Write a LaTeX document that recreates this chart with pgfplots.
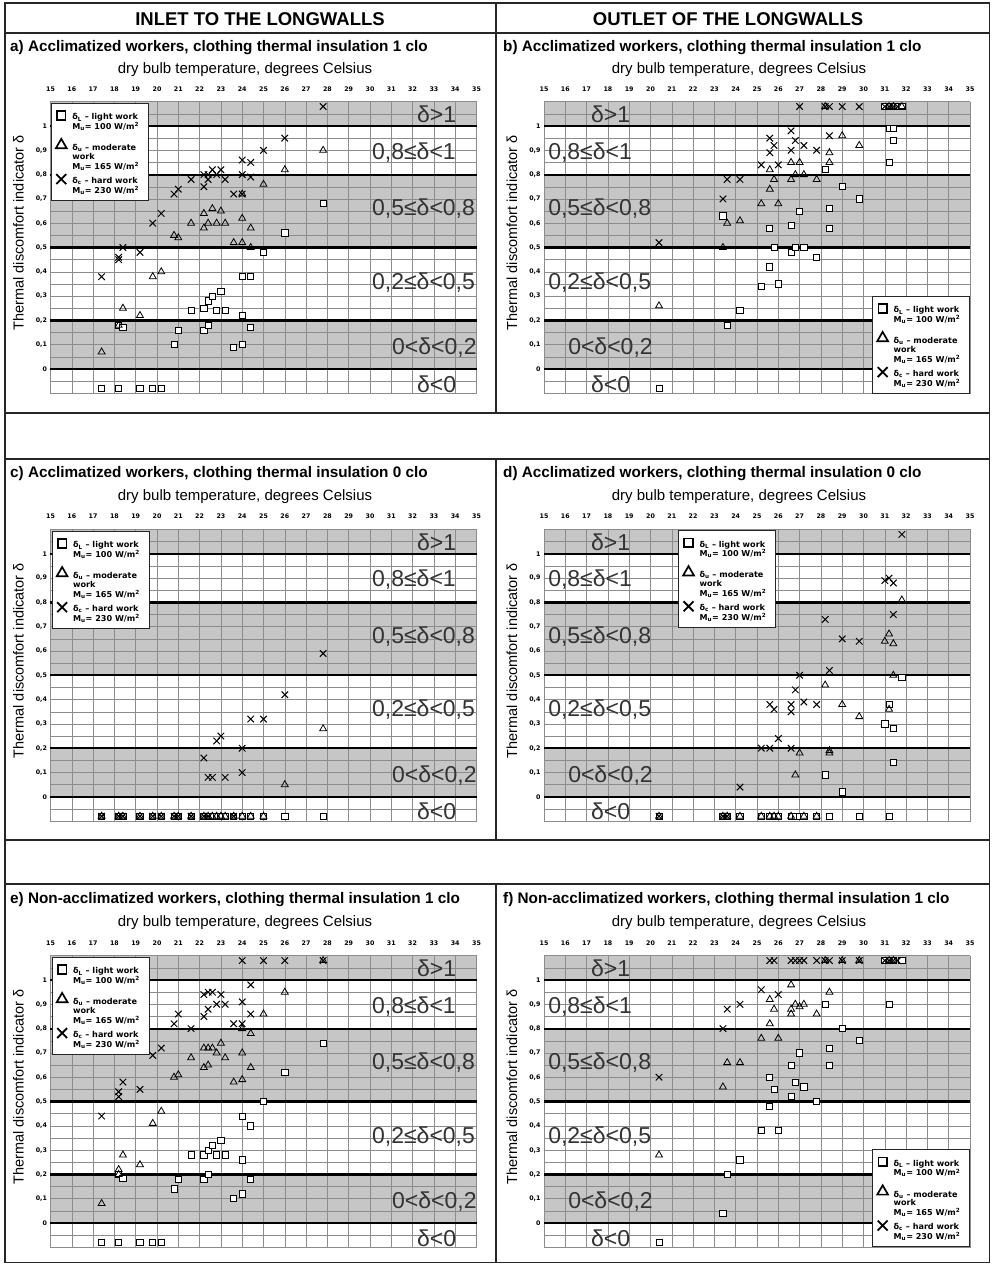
\documentclass[border=0pt]{standalone}
\usepackage{fontspec}
\setmainfont{Liberation Sans}
\newfontfamily\dv{DejaVu Sans}
\usepackage{pgfplots}
\pgfplotsset{compat=1.18}
\definecolor{bandgray}{RGB}{198,198,198}
\newcommand{\tickfont}{\dv\bfseries\fontsize{6.3}{7}\selectfont}
\newcommand{\legfont}{\dv\bfseries\fontsize{8.1}{8.7}\selectfont}
\protected\def\legL{\begin{tabular}{@{}p{72pt}@{}}δ\textsubscript{L} – light work\\M\textsubscript{u}= 100 W/m\textsuperscript{2}\end{tabular}}
\protected\def\legU{\begin{tabular}{@{}p{72pt}@{}}δ\textsubscript{u} – moderate\\work\\M\textsubscript{u}= 165 W/m\textsuperscript{2}\end{tabular}}
\protected\def\legC{\begin{tabular}{@{}p{72pt}@{}}δ\textsubscript{c} – hard work\\M\textsubscript{u}= 230 W/m\textsuperscript{2}\end{tabular}}
\tikzset{
 gridc/.style={draw=black!45, line width=0.45pt},
 thickl/.style={draw=black, line width=2.2pt},
 zone/.style={anchor=west, inner sep=0pt, font=\fontsize{23}{24}\selectfont, text=black!80},
 frame/.style={draw=black!85, line width=1.1pt},
}
\pgfplotsset{
 panel/.style={
  width=426pt, height=291.6pt, scale only axis, anchor=north west,
  xmin=15, xmax=35, ymin=-0.1, ymax=1.1, clip=false,
  xtick={15,16,...,35}, xticklabel pos=upper,
  ytick={0,0.1,0.2,0.3,0.4,0.5,0.6,0.7,0.8,0.9,1},
  major tick length=0pt,
  axis line style={draw=black!50, line width=0.4pt},
  ticklabel style={font=\tickfont},
  xticklabel style={yshift=7pt},
  /pgf/number format/assume math mode=true,
  /pgf/number format/use comma,
  ylabel={Thermal discomfort indicator δ},
  every axis y label/.style={at={(axis description cs:-0.075,0.55)}, rotate=90, anchor=center, font=\fontsize{14.5}{16}\selectfont},
  legend style={draw=black!85, line width=0.7pt, fill=white, inner xsep=2pt, inner ysep=8pt, row sep=10.5pt, font=\legfont, cells={anchor=west}, /tikz/every even column/.append style={column sep=1pt}},
 },
 sq/.style={only marks, mark=square*, mark size=3.1pt, mark options={fill=white, draw=black, line width=0.8pt},
   legend image code/.code={\path[draw=none,fill=none] (0pt,3pt) (17pt,3pt); \draw[mark=square*, mark size=4.3pt, mark options={fill=white, draw=black, line width=1.7pt}] plot coordinates {(8pt,4.5pt)};}},
 tri/.style={only marks, mark=triangle, mark size=4pt, mark options={draw=black, line width=0.8pt},
   legend image code/.code={\path[draw=none,fill=none] (0pt,3pt) (17pt,3pt); \draw[mark=triangle, mark size=6.2pt, mark options={draw=black, line width=1.7pt}] plot coordinates {(8pt,8pt)};}},
 crs/.style={only marks, mark=x, mark size=4.6pt, mark options={draw=black, line width=1pt},
   legend image code/.code={\path[draw=none,fill=none] (0pt,3pt) (17pt,3pt); \draw[mark=x, mark size=7pt, mark options={draw=black, line width=1.8pt}] plot coordinates {(8pt,4.5pt)};}},
}
\newcommand{\bg}{%
 \fill[bandgray] (axis cs:15,1) rectangle (axis cs:35,1.1);
 \fill[bandgray] (axis cs:15,0.5) rectangle (axis cs:35,0.8);
 \fill[bandgray] (axis cs:15,0) rectangle (axis cs:35,0.2);
 \pgfplotsinvokeforeach{15,...,35}{\draw[gridc] (axis cs:##1,-0.1) -- (axis cs:##1,1.1);}
 \pgfplotsinvokeforeach{-2,...,22}{\draw[gridc] (axis cs:15,##1*0.05) -- (axis cs:35,##1*0.05);}
 \pgfplotsinvokeforeach{0,0.2,0.5,0.8,1}{\draw[thickl] (axis cs:15,##1) -- (axis cs:35,##1);}
}
\newcommand{\zonesR}{%
 \node[zone] at (axis cs:32.2,1.048) {δ>1};
 \node[zone] at (axis cs:30.09,0.892) {0,8≤δ<1};
 \node[zone] at (axis cs:30.09,0.661) {0,5≤δ<0,8};
 \node[zone] at (axis cs:30.09,0.357) {0,2≤δ<0,5};
 \node[zone] at (axis cs:31.03,0.089) {0<δ<0,2};
 \node[zone] at (axis cs:32.2,-0.061) {δ<0};
}
\newcommand{\zonesL}{%
 \node[zone] at (axis cs:17.2,1.048) {δ>1};
 \node[zone] at (axis cs:15.19,0.892) {0,8≤δ<1};
 \node[zone] at (axis cs:15.19,0.661) {0,5≤δ<0,8};
 \node[zone] at (axis cs:15.19,0.357) {0,2≤δ<0,5};
 \node[zone] at (axis cs:16.13,0.089) {0<δ<0,2};
 \node[zone] at (axis cs:17.2,-0.061) {δ<0};
}
\begin{document}
\begin{tikzpicture}
\useasboundingbox (0pt,0pt) rectangle (991pt,-1264pt);
% frame
\draw[frame] (5pt,-3pt) rectangle (989.5pt,-1262.5pt);
\draw[frame] (5pt,-33pt) -- (989.5pt,-33pt);
\draw[frame] (496pt,-3pt) -- (496pt,-413pt);
\draw[frame] (5pt,-413pt) -- (989.5pt,-413pt);
\draw[frame] (5pt,-459pt) -- (989.5pt,-459pt);
\draw[frame] (496pt,-459pt) -- (496pt,-840pt);
\draw[frame] (5pt,-840pt) -- (989.5pt,-840pt);
\draw[frame] (5pt,-884pt) -- (989.5pt,-884pt);
\draw[frame] (496pt,-884pt) -- (496pt,-1262.5pt);
\node[font=\bfseries\fontsize{18.5}{20}\selectfont] at (260pt,-19.5pt) {INLET TO THE LONGWALLS};
\node[font=\bfseries\fontsize{18.5}{20}\selectfont] at (728pt,-19.5pt) {OUTLET OF THE LONGWALLS};
\begin{scope}[every node/.style={inner sep=0pt}]
\node[anchor=west, font=\bfseries\fontsize{15.3}{17}\selectfont] at (10pt,-48pt) {a) Acclimatized workers, clothing thermal insulation 1 clo};
\node[anchor=west, font=\bfseries\fontsize{15.3}{17}\selectfont] at (503pt,-48pt) {b) Acclimatized workers, clothing thermal insulation 1 clo};
\node[anchor=west, font=\bfseries\fontsize{15.3}{17}\selectfont] at (10pt,-474pt) {c) Acclimatized workers, clothing thermal insulation 0 clo};
\node[anchor=west, font=\bfseries\fontsize{15.3}{17}\selectfont] at (503pt,-474pt) {d) Acclimatized workers, clothing thermal insulation 0 clo};
\node[anchor=west, font=\bfseries\fontsize{15.3}{17}\selectfont] at (10pt,-900pt) {e) Non-acclimatized workers, clothing thermal insulation 1 clo};
\node[anchor=west, font=\bfseries\fontsize{15.3}{17}\selectfont] at (503pt,-900pt) {f) Non-acclimatized workers, clothing thermal insulation 1 clo};
\foreach \xx/\yy in {245/70,739/70,245/497,739/497,245/923,739/923}{
 \node[font=\fontsize{15}{17}\selectfont] at (\xx pt,-\yy pt) {dry bulb temperature, degrees Celsius};}
\end{scope}

% ---------- a ----------
\begin{axis}[panel, at={(50.5pt,-101.7pt)}, legend style={at={(0.001,0.996)}, anchor=north west}]
\bg \zonesR
\addplot[sq] coordinates {(17.4,-0.08)(18.2,-0.08)(19.2,-0.08)(19.8,-0.08)(20.2,-0.08)(18.2,0.18)(18.4,0.17)(20.8,0.10)(21.0,0.16)(21.6,0.24)(22.2,0.25)(22.2,0.16)(22.4,0.18)(22.4,0.28)(22.6,0.30)(22.8,0.24)(23.0,0.32)(23.2,0.24)(23.6,0.09)(24.0,0.22)(24.0,0.10)(24.0,0.38)(24.4,0.38)(24.4,0.17)(25.0,0.48)(26.0,0.56)(27.8,0.68)};
\addlegendentry{\legL}
\addplot[tri] coordinates {(17.4,0.07)(18.2,0.18)(18.4,0.25)(19.2,0.22)(19.8,0.38)(20.2,0.40)(20.8,0.55)(21.0,0.54)(21.6,0.60)(22.2,0.58)(22.2,0.64)(22.4,0.60)(22.6,0.66)(22.8,0.60)(23.0,0.65)(23.2,0.60)(23.6,0.52)(24.0,0.52)(24.0,0.62)(24.0,0.72)(24.4,0.58)(24.4,0.50)(25.0,0.76)(26.0,0.82)(27.8,0.90)};
\addlegendentry{\legU}
\addplot[crs] coordinates {(17.4,0.38)(18.2,0.45)(18.2,0.46)(18.4,0.50)(19.2,0.48)(19.8,0.60)(20.2,0.64)(20.8,0.72)(21.0,0.74)(21.6,0.78)(22.2,0.75)(22.2,0.80)(22.4,0.78)(22.4,0.80)(22.6,0.82)(22.8,0.80)(23.0,0.82)(23.2,0.78)(23.6,0.72)(24.0,0.72)(24.0,0.80)(24.0,0.86)(24.4,0.85)(24.4,0.79)(25.0,0.90)(26.0,0.95)(27.8,1.08)};
\addlegendentry{\legC}
\end{axis}

% ---------- b ----------
\begin{axis}[panel, at={(544pt,-101.7pt)}, legend style={at={(1,0)}, anchor=south east}]
\bg \zonesL
\addplot[sq] coordinates {(20.4,-0.08)(23.6,0.18)(24.2,0.24)(23.4,0.63)(25.2,0.34)(25.6,0.42)(26.0,0.35)(25.6,0.58)(25.8,0.50)(26.6,0.48)(26.6,0.59)(26.8,0.50)(27.2,0.50)(27.0,0.65)(27.8,0.46)(28.2,0.82)(28.4,0.66)(28.4,0.58)(29.0,0.75)(29.8,0.70)(31.2,0.85)(31.2,0.99)(31.4,0.99)(31.4,0.94)(31.0,1.08)(31.2,1.08)(31.4,1.08)(31.6,1.08)(31.8,1.08)};
\addlegendentry{\legL}
\addplot[tri] coordinates {(20.4,0.26)(23.4,0.50)(23.6,0.60)(24.2,0.61)(25.2,0.68)(25.6,0.74)(25.6,0.82)(25.8,0.78)(26.0,0.68)(26.6,0.78)(26.6,0.85)(27.0,0.85)(26.8,0.80)(27.2,0.80)(27.8,0.78)(28.4,0.85)(28.4,0.89)(29.0,0.96)(29.8,0.92)(28.2,1.08)(31.2,1.08)(31.4,1.08)(31.8,1.08)};
\addlegendentry{\legU}
\addplot[crs] coordinates {(20.4,0.52)(23.4,0.70)(23.6,0.78)(24.2,0.78)(25.2,0.84)(25.6,0.95)(25.6,0.89)(25.8,0.92)(26.0,0.84)(26.6,0.98)(26.6,0.90)(26.8,0.94)(27.2,0.92)(27.8,0.90)(28.4,0.96)(27.0,1.08)(28.2,1.08)(28.4,1.08)(29.0,1.08)(29.8,1.08)(31.0,1.08)(31.2,1.08)(31.4,1.08)(31.6,1.08)};
\addlegendentry{\legC}
\end{axis}

% ---------- c ----------
\begin{axis}[panel, at={(50.5pt,-529.5pt)}, legend style={at={(0.003,0.995)}, anchor=north west}]
\bg \zonesR
\addplot[sq] coordinates {(17.4,-0.08)(18.2,-0.08)(18.4,-0.08)(19.2,-0.08)(19.8,-0.08)(20.2,-0.08)(20.8,-0.08)(21.0,-0.08)(21.6,-0.08)(22.2,-0.08)(22.4,-0.08)(22.6,-0.08)(22.8,-0.08)(23.0,-0.08)(23.2,-0.08)(23.6,-0.08)(24.0,-0.08)(24.4,-0.08)(25.0,-0.08)(26.0,-0.08)(27.8,-0.08)};
\addlegendentry{\legL}
\addplot[tri] coordinates {(17.4,-0.08)(18.2,-0.08)(18.4,-0.08)(19.2,-0.08)(19.8,-0.08)(20.2,-0.08)(20.8,-0.08)(21.0,-0.08)(21.6,-0.08)(22.2,-0.08)(22.4,-0.08)(22.6,-0.08)(22.8,-0.08)(23.0,-0.08)(23.2,-0.08)(23.6,-0.08)(24.0,-0.08)(24.4,-0.08)(25.0,-0.08)(26.0,0.05)(27.8,0.28)};
\addlegendentry{\legU}
\addplot[crs] coordinates {(17.4,-0.08)(18.2,-0.08)(18.4,-0.08)(19.2,-0.08)(19.8,-0.08)(20.2,-0.08)(20.8,-0.08)(21.0,-0.08)(21.6,-0.08)(22.2,-0.08)(22.4,-0.08)(23.6,-0.08)(22.2,0.16)(22.4,0.08)(22.6,0.08)(22.8,0.23)(23.0,0.25)(23.2,0.08)(24.0,0.20)(24.0,0.10)(24.4,0.32)(25.0,0.32)(26.0,0.42)(27.8,0.59)};
\addlegendentry{\legC}
\end{axis}

% ---------- d ----------
\begin{axis}[panel, at={(544pt,-529.5pt)}, legend style={at={(0.315,0.998)}, anchor=north west}]
\bg \zonesL
\addplot[sq] coordinates {(20.4,-0.08)(23.4,-0.08)(23.6,-0.08)(24.2,-0.08)(25.2,-0.08)(25.6,-0.08)(25.8,-0.08)(26.0,-0.08)(26.6,-0.08)(26.8,-0.08)(27.0,-0.08)(27.2,-0.08)(27.8,-0.08)(28.4,-0.08)(29.8,-0.08)(31.2,-0.08)(28.2,0.09)(29.0,0.02)(31.0,0.30)(31.2,0.38)(31.4,0.28)(31.4,0.14)(31.8,0.49)};
\addlegendentry{\legL}
\addplot[tri] coordinates {(20.4,-0.08)(23.4,-0.08)(23.6,-0.08)(24.2,-0.08)(25.2,-0.08)(25.6,-0.08)(25.8,-0.08)(26.0,-0.08)(26.6,-0.08)(27.2,-0.08)(27.8,-0.08)(26.8,0.09)(27.0,0.18)(28.2,0.46)(28.4,0.18)(28.4,0.19)(29.0,0.38)(29.8,0.33)(31.0,0.64)(31.2,0.67)(31.2,0.36)(31.4,0.63)(31.4,0.50)(31.8,0.81)};
\addlegendentry{\legU}
\addplot[crs] coordinates {(20.4,-0.08)(23.4,-0.08)(23.6,-0.08)(24.2,0.04)(25.2,0.20)(25.6,0.20)(26.0,0.24)(26.6,0.20)(25.6,0.38)(25.8,0.36)(26.6,0.38)(26.6,0.35)(26.8,0.44)(27.0,0.50)(27.2,0.39)(27.8,0.38)(28.2,0.73)(28.4,0.52)(29.0,0.65)(29.8,0.64)(31.0,0.89)(31.2,0.90)(31.4,0.88)(31.4,0.75)(31.8,1.08)};
\addlegendentry{\legC}
\end{axis}

% ---------- e ----------
\begin{axis}[panel, at={(50.5pt,-955.7pt)}, legend style={at={(0.003,0.996)}, anchor=north west}]
\bg \zonesR
\addplot[sq] coordinates {(17.4,-0.08)(18.2,-0.08)(19.2,-0.08)(19.8,-0.08)(20.2,-0.08)(18.2,0.20)(18.4,0.185)(20.8,0.14)(21.0,0.18)(21.6,0.28)(22.2,0.28)(22.2,0.18)(22.4,0.20)(22.4,0.30)(22.6,0.32)(22.8,0.28)(23.0,0.34)(23.2,0.28)(23.6,0.10)(24.0,0.12)(24.0,0.26)(24.0,0.44)(24.4,0.40)(24.4,0.18)(25.0,0.50)(26.0,0.62)(27.8,0.74)};
\addlegendentry{\legL}
\addplot[tri] coordinates {(17.4,0.08)(18.2,0.22)(18.2,0.20)(18.4,0.28)(19.2,0.24)(19.8,0.41)(20.2,0.46)(20.8,0.60)(21.0,0.61)(21.6,0.68)(22.2,0.64)(22.2,0.72)(22.4,0.72)(22.4,0.65)(22.6,0.72)(22.8,0.70)(23.0,0.74)(23.2,0.68)(23.6,0.58)(24.0,0.59)(24.0,0.70)(24.0,0.80)(24.4,0.64)(24.4,0.78)(25.0,0.86)(26.0,0.95)(27.8,1.08)};
\addlegendentry{\legU}
\addplot[crs] coordinates {(17.4,0.44)(18.2,0.54)(18.2,0.52)(18.4,0.58)(19.2,0.55)(19.8,0.69)(20.2,0.72)(20.8,0.82)(21.0,0.86)(21.6,0.80)(22.2,0.85)(22.2,0.94)(22.4,0.88)(22.4,0.95)(22.6,0.95)(22.8,0.90)(23.0,0.94)(23.2,0.90)(23.6,0.82)(24.0,0.82)(24.0,0.91)(24.4,0.98)(24.4,0.86)(24.0,1.08)(25.0,1.08)(26.0,1.08)(27.8,1.08)};
\addlegendentry{\legC}
\end{axis}

% ---------- f ----------
\begin{axis}[panel, at={(544pt,-955.7pt)}, legend style={at={(1,0.002)}, anchor=south east}]
\bg \zonesL
\addplot[sq] coordinates {(20.4,-0.08)(23.4,0.04)(23.6,0.20)(24.2,0.26)(25.2,0.38)(26.0,0.38)(25.6,0.48)(25.6,0.60)(25.8,0.55)(26.6,0.52)(26.6,0.65)(26.8,0.58)(27.2,0.56)(27.0,0.70)(27.8,0.50)(28.2,0.90)(28.4,0.72)(28.4,0.65)(29.0,0.80)(29.8,0.75)(31.2,0.90)(31.0,1.08)(31.2,1.08)(31.4,1.08)(31.8,1.08)};
\addlegendentry{\legL}
\addplot[tri] coordinates {(20.4,0.28)(23.4,0.56)(23.6,0.66)(24.2,0.66)(25.2,0.76)(25.6,0.82)(25.6,0.92)(25.8,0.88)(26.0,0.76)(26.6,0.98)(26.6,0.86)(26.6,0.88)(26.8,0.90)(27.0,0.89)(27.2,0.90)(27.8,0.86)(28.4,0.95)(28.2,1.08)(29.0,1.08)(29.8,1.08)(31.2,1.08)(31.4,1.08)};
\addlegendentry{\legU}
\addplot[crs] coordinates {(20.4,0.60)(23.4,0.80)(23.6,0.88)(24.2,0.90)(25.2,0.96)(26.0,0.94)(25.6,1.08)(25.8,1.08)(26.6,1.08)(26.8,1.08)(27.0,1.08)(27.2,1.08)(27.8,1.08)(28.2,1.08)(28.4,1.08)(29.0,1.08)(29.8,1.08)(31.0,1.08)(31.2,1.08)(31.4,1.08)(31.6,1.08)};
\addlegendentry{\legC}
\end{axis}
\end{tikzpicture}
\end{document}
